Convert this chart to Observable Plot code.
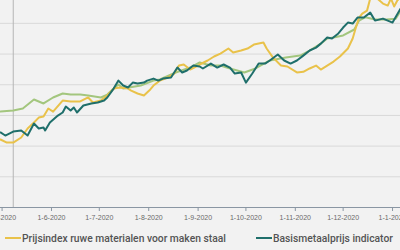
<!DOCTYPE html>
<html><head><meta charset="utf-8">
<script src="https://cdn.jsdelivr.net/npm/d3@7"></script>
<script src="https://cdn.jsdelivr.net/npm/@observablehq/plot@0.6"></script>
<style>
html,body{margin:0;padding:0;background:#f2f2f2;width:400px;height:250px;overflow:hidden;font-family:"Liberation Sans",Arial,sans-serif;}
#chart{position:absolute;left:0;top:0;}
.legend{position:absolute;top:231px;left:0;width:400px;height:16px;font-family:Roboto,"Liberation Sans",sans-serif;font-weight:500;font-size:10.3px;color:#545454;}
.item{position:absolute;top:0;display:flex;align-items:center;white-space:nowrap;height:14px;}
.sw{display:inline-block;width:16px;height:2px;margin-right:1px;}
</style></head><body>
<div id="chart"></div>
<div class="legend" id="legend"></div>
<script>
const seriesNames = ["Prijsindex ruwe materialen voor maken staal", "Basismetaalprijs indicator"];
const seriesColors = ["#e9c24a", "#1f6f6b"];
const trendColor = "#a3c67e";

const prijsDates = ["2020-04-30","2020-05-04","2020-05-08","2020-05-13","2020-05-17","2020-05-21","2020-05-24","2020-05-27","2020-05-30","2020-06-02","2020-06-08","2020-06-13","2020-06-19","2020-06-24","2020-06-27","2020-07-02","2020-07-06","2020-07-10","2020-07-14","2020-07-19","2020-07-21","2020-07-25","2020-07-29","2020-08-02","2020-08-04","2020-08-08","2020-08-13","2020-08-17","2020-08-20","2020-08-23","2020-08-27","2020-09-01","2020-09-02","2020-09-07","2020-09-11","2020-09-15","2020-09-20","2020-09-23","2020-09-28","2020-10-02","2020-10-06","2020-10-12","2020-10-14","2020-10-18","2020-10-23","2020-10-27","2020-11-02","2020-11-06","2020-11-10","2020-11-14","2020-11-17","2020-11-21","2020-11-25","2020-11-29","2020-12-04","2020-12-07","2020-12-09","2020-12-11","2020-12-13","2020-12-16","2020-12-18","2020-12-21","2020-12-26","2020-12-29","2020-12-31","2021-01-02","2021-01-04","2021-01-06"];
const prijsValues = [104.3,102.3,102.3,105.6,111.5,115.4,118.6,119.3,124.5,122.5,129.7,129.1,129.1,131.7,128.4,129.7,133.0,137.5,138.2,137.5,136.2,134.3,133.0,136.9,139.5,142.7,144.7,147.3,152.5,153.2,149.9,152.5,153.2,155.8,158.4,160.3,163.6,161.0,162.3,163.6,166.2,167.5,163.6,157.7,152.5,151.9,148.0,148.4,150.6,152.5,149.9,152.5,155.1,158.4,163.6,170.1,177.3,183.8,186.4,188.3,196.2,197.5,192.9,191.6,196.2,191.0,194.9,196.9];

const basisDates = ["2020-04-30","2020-05-03","2020-05-08","2020-05-13","2020-05-17","2020-05-21","2020-05-24","2020-05-27","2020-05-28","2020-05-31","2020-06-05","2020-06-08","2020-06-10","2020-06-13","2020-06-15","2020-06-17","2020-06-21","2020-06-26","2020-06-30","2020-07-04","2020-07-06","2020-07-10","2020-07-13","2020-07-16","2020-07-19","2020-07-22","2020-07-25","2020-07-29","2020-07-31","2020-08-04","2020-08-07","2020-08-10","2020-08-15","2020-08-19","2020-08-22","2020-08-25","2020-08-29","2020-09-02","2020-09-04","2020-09-09","2020-09-13","2020-09-17","2020-09-21","2020-09-24","2020-09-28","2020-10-01","2020-10-05","2020-10-09","2020-10-13","2020-10-16","2020-10-21","2020-10-25","2020-10-29","2020-11-02","2020-11-06","2020-11-10","2020-11-14","2020-11-17","2020-11-21","2020-11-24","2020-11-28","2020-12-01","2020-12-04","2020-12-07","2020-12-10","2020-12-14","2020-12-18","2020-12-21","2020-12-26","2021-01-01","2021-01-06"];
const basisValues = [108.9,106.9,109.5,110.2,106.9,114.7,111.5,112.1,110.2,115.4,119.9,121.9,125.8,123.2,125.2,121.9,126.5,127.8,128.4,129.7,131.7,137.5,142.7,139.5,138.2,141.4,140.8,141.4,142.7,144.0,142.7,144.0,144.7,151.2,148.0,149.3,152.5,151.9,150.6,153.8,151.2,153.2,151.2,147.3,148.0,141.4,147.3,153.8,153.8,155.8,159.7,155.8,153.8,155.8,159.0,162.3,164.2,166.8,170.8,170.1,173.4,177.3,180.5,179.9,183.8,183.8,187.0,181.8,183.1,180.5,189.6];

const trendDates = ["2020-04-30","2020-05-08","2020-05-14","2020-05-21","2020-05-27","2020-06-02","2020-06-08","2020-06-13","2020-06-19","2020-06-24","2020-07-02","2020-07-06","2020-07-10","2020-07-13","2020-07-16","2020-07-27","2020-08-04","2020-08-08","2020-08-18","2020-08-27","2020-09-02","2020-09-09","2020-09-15","2020-09-21","2020-09-30","2020-10-07","2020-10-16","2020-10-26","2020-11-04","2020-11-10","2020-11-17","2020-11-21","2020-11-25","2020-12-01","2020-12-08","2020-12-11","2020-12-15","2020-12-21","2020-12-28","2021-01-03","2021-01-06"];
const trendValues = [122.5,123.2,124.5,130.4,127.8,131.7,134.3,133.6,133.6,133.0,131.7,133.6,137.5,140.1,137.5,139.5,142.7,143.4,148.0,151.2,154.5,152.5,152.5,150.6,148.0,150.6,155.8,157.7,159.0,162.3,166.8,170.1,170.8,172.1,176.0,181.8,184.0,182.5,182.5,183.0,188.0];

const referenceDate = "2020-05-08";
const gridValues = [80, 100, 120, 140, 160, 180];
const yDomain = [60, 194.9];
const xDomain = ["2020-04-30", "2021-01-06"];
const monthTicks = ["2020-05-01","2020-06-01","2020-07-01","2020-08-01","2020-09-01","2020-10-01","2020-11-01","2020-12-01","2021-01-01"];

const toRows = (ds, vs) => ds.map((d, i) => ({date: new Date(d), value: vs[i]}));
const prijs = toRows(prijsDates, prijsValues);
const basis = toRows(basisDates, basisValues);
const trend = toRows(trendDates, trendValues);
const fmt = d => `${d.getUTCDate()}-${d.getUTCMonth() + 1}-${d.getUTCFullYear()}`;

const chart = Plot.plot({
  width: 400, height: 226,
  marginTop: 0, marginRight: 0, marginBottom: 19, marginLeft: 0,
  style: {background: "#f2f2f2", fontFamily: "'Liberation Sans', Arial, sans-serif"},
  x: {type: "utc", domain: xDomain.map(d => new Date(d))},
  y: {domain: yDomain, axis: null},
  marks: [
    Plot.gridY(gridValues, {stroke: "#d9d9d9", strokeOpacity: 1}),
    Plot.ruleX([new Date(referenceDate)], {stroke: "#b5b5b5", strokeWidth: 1}),
    Plot.line(trend, {x: "date", y: "value", stroke: trendColor, strokeWidth: 2, clip: true}),
    Plot.line(prijs, {x: "date", y: "value", stroke: seriesColors[0], strokeWidth: 2, clip: true}),
    Plot.line(basis, {x: "date", y: "value", stroke: seriesColors[1], strokeWidth: 2, clip: true}),
    Plot.ruleY([yDomain[0]], {stroke: "#8a96a3"}),
    Plot.axisX(monthTicks.map(d => new Date(d)), {tickFormat: fmt, tickSize: 4, tickPadding: 4, fontSize: 7, stroke: "#8a96a3", color: "#6a6a6a", label: null})
  ]
});
document.getElementById("chart").appendChild(chart);

const legend = document.getElementById("legend");
const lefts = [5, 256];
seriesNames.forEach((n, i) => {
  const it = document.createElement("div");
  it.className = "item";
  it.style.left = lefts[i] + "px";
  const sw = document.createElement("span");
  sw.className = "sw";
  sw.style.background = seriesColors[i];
  it.appendChild(sw);
  it.appendChild(document.createTextNode(n));
  legend.appendChild(it);
});
</script>
</body></html>
